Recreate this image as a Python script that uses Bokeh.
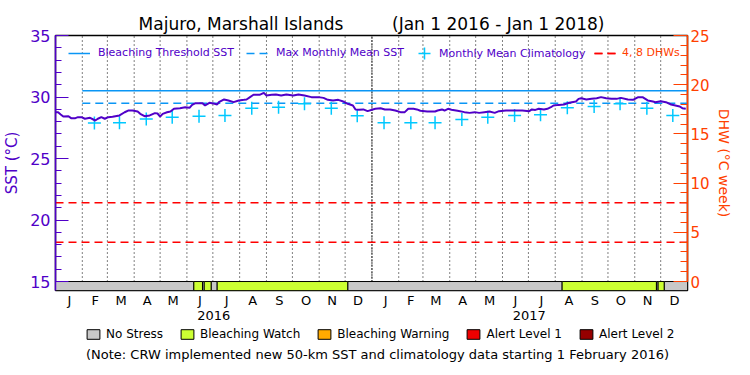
import math
import pandas as pd
from bokeh.plotting import figure
from bokeh.layouts import column
from bokeh.models import (Range1d, LinearAxis, FixedTicker, Legend, LegendItem,
                          ColumnDataSource, Label)
from bokeh.embed import file_html
from bokeh.resources import INLINE

# ---------------- data ----------------
START = pd.Timestamp("2016-01-01")
END = pd.Timestamp("2018-01-01")

# daily SST, day offsets from 1 Jan 2016
sst_day = [0, 3, 6, 9, 15, 18, 23, 26, 30, 34, 40, 46, 49, 53, 57, 61, 66, 74, 80, 84,
           89, 95, 98, 103, 109, 115, 118, 121, 124, 129, 133, 137, 144, 150, 155, 158,
           162, 170, 173, 178, 184, 187, 189, 195, 200, 206, 212, 218, 221, 225, 229,
           236, 241, 244, 250, 255, 261, 267, 275, 281, 288, 296, 304, 310, 315, 321,
           327, 332, 338, 344, 347, 351, 356, 361, 367, 370, 376, 381, 387, 393, 399,
           404, 408, 414, 418, 422, 430, 439, 442, 447, 450, 454, 458, 465, 473, 479,
           485, 490, 496, 502, 508, 513, 521, 533, 540, 548, 551, 555, 559, 565, 569,
           573, 576, 582, 588, 594, 602, 605, 608, 614, 620, 626, 631, 637, 643, 649,
           654, 662, 668, 674, 679, 685, 691, 694, 700, 706, 712, 717, 722, 725, 729]
sst_val = [28.76, 28.76, 28.58, 28.41, 28.44, 28.28, 28.28, 28.36, 28.36, 28.23, 28.31,
           28.09, 28.23, 28.36, 28.23, 28.36, 28.39, 28.50, 28.76, 28.90, 28.90, 28.82,
           28.63, 28.44, 28.50, 28.69, 28.66, 28.41, 28.63, 28.76, 28.82, 29.04, 29.09,
           29.17, 29.12, 29.36, 29.50, 29.50, 29.31, 29.53, 29.45, 29.39, 29.58, 29.80,
           29.72, 29.58, 29.72, 29.77, 29.80, 29.99, 30.18, 30.18, 30.34, 30.12, 30.18,
           30.20, 30.12, 30.20, 30.12, 30.20, 30.12, 29.99, 29.99, 29.93, 29.77, 29.72,
           29.77, 29.66, 29.45, 29.31, 28.99, 28.96, 28.99, 28.85, 28.99, 29.04, 29.09,
           28.99, 28.99, 28.90, 28.77, 28.77, 29.04, 29.04, 28.99, 28.88, 28.82, 28.82,
           28.90, 28.99, 28.90, 29.04, 28.96, 28.88, 28.77, 28.71, 28.77, 28.71, 28.77,
           28.82, 28.71, 28.85, 28.90, 28.90, 28.90, 28.85, 28.99, 28.95, 29.04, 28.99,
           29.04, 29.17, 29.31, 29.36, 29.39, 29.53, 29.63, 29.85, 29.90, 29.80, 29.85,
           29.90, 29.99, 29.90, 29.85, 29.85, 29.93, 29.80, 29.77, 29.99, 29.99, 29.72,
           29.63, 29.58, 29.66, 29.58, 29.39, 29.31, 29.23, 29.09, 29.04]

# monthly mean climatology (plotted mid-month)
clim_month = ["2016-02", "2016-03", "2016-04", "2016-05", "2016-06", "2016-07",
              "2016-08", "2016-09", "2016-10", "2016-11", "2016-12",
              "2017-01", "2017-02", "2017-03", "2017-04", "2017-05", "2017-06",
              "2017-07", "2017-08", "2017-09", "2017-10", "2017-11", "2017-12"]
clim_val = [27.88, 27.90, 28.22, 28.36, 28.44, 28.50, 29.09, 29.17, 29.45, 29.09, 28.47,
            27.90, 27.90, 27.90, 28.17, 28.36, 28.50, 28.55, 29.12, 29.23, 29.45, 29.09, 28.50]

BLEACHING_THRESHOLD = 30.5
MMM = 29.5
THRESHOLD_START = "2016-02-01"
DHW_LEVELS = [4, 8]

# bleaching alert status periods
status_start = ["2016-01-01", "2016-06-09", "2016-06-19", "2016-06-21", "2016-06-29",
                "2016-07-06", "2016-12-04", "2017-08-09", "2017-11-26", "2017-11-28",
                "2017-12-05"]
status_end = status_start[1:] + ["2018-01-01"]
status_level = [0, 1, 0, 1, 0, 1, 0, 1, 0, 1, 0]

status_names = ["No Stress", "Bleaching Watch", "Bleaching Warning", "Alert Level 1", "Alert Level 2"]
status_colors = ["#c8c8c8", "#ccff33", "#ffaa00", "#ee0000", "#960000"]

month_letters = ["J", "F", "M", "A", "M", "J", "J", "A", "S", "O", "N", "D"]
year_labels = ["2016", "2017"]
title_text = "Majuro, Marshall Islands\u00a0\u00a0\u00a0\u00a0\u00a0\u00a0\u00a0\u00a0\u00a0(Jan 1 2016 - Jan 1 2018)"
note_text = "(Note: CRW implemented new 50-km SST and climatology data starting 1 February 2016)"

# ---------------- styling ----------------
PURPLE = "#5000c8"
ORANGE = "#ff4000"
CYAN = "#00c8ff"
BLUE = "#0a96f5"
RED = "#ff0000"
FONT = "DejaVu Sans"

SST_MIN, SST_MAX = 15, 35
DHW_MAX = 25
Y_START = 14.27  # room for the status bar below 15 degC
W = 742


def days(d):
    return (pd.Timestamp(d) - START).days


ndays = (END - START).days
month_starts = pd.date_range(START, END, freq="MS")
month_off = [days(m) for m in month_starts]
month_centers = [int(round((a + b) / 2)) for a, b in zip(month_off[:-1], month_off[1:])]
year_off = [days(y) for y in pd.date_range(START, END, freq="YS")]
year_centers = [int(round((a + b) / 2)) for a, b in zip(year_off[:-1], year_off[1:])]

p = figure(width=W, height=325, output_backend="svg", toolbar_location=None,
           x_range=Range1d(0, ndays), y_range=Range1d(Y_START, SST_MAX),
           min_border_left=49, min_border_right=55, min_border_top=35, min_border_bottom=35)
p.background_fill_color = "white"
p.border_fill_color = "white"
p.outline_line_color = "black"
p.outline_line_width = 1.5
p.xgrid.visible = False
p.ygrid.visible = False

dscale = DHW_MAX / (SST_MAX - SST_MIN)
p.extra_y_ranges = {"dhw": Range1d((Y_START - SST_MIN) * dscale, DHW_MAX)}

# title
p.title.text = title_text
p.title.align = "center"
p.title.text_font = FONT
p.title.text_font_size = "17px"
p.title.text_font_style = "normal"
p.title.text_color = "black"
p.title.standoff = 4

# month dotted lines
inner = month_off[1:-1]
p.segment(x0=inner, x1=inner, y0=[SST_MIN] * len(inner), y1=[SST_MAX] * len(inner),
          line_color="black", line_dash="1 3", line_width=1)
p.segment(x0=[year_off[1]], x1=[year_off[1]], y0=[SST_MIN], y1=[SST_MAX],
          line_color="black", line_dash="1 2", line_width=1.5)

# status bar
s0 = [days(d) for d in status_start]
s1 = [days(d) for d in status_end]
for lvl, col in enumerate(status_colors):
    idx = [i for i, l in enumerate(status_level) if l == lvl]
    if idx:
        p.quad(left=[s0[i] for i in idx], right=[s1[i] for i in idx],
               top=[SST_MIN] * len(idx), bottom=[Y_START] * len(idx),
               fill_color=col, line_color="black", line_width=1)

# DHW reference lines
dhw_rs = [p.line([0, ndays], [v, v], y_range_name="dhw", line_color=RED,
                 line_dash="8 5", line_width=1.5) for v in DHW_LEVELS]

# thresholds
t0 = days(THRESHOLD_START)
thr_r = p.line([t0, ndays], [BLEACHING_THRESHOLD] * 2, line_color=BLUE, line_width=1.5)
mmm_r = p.line([t0, ndays], [MMM] * 2, line_color=BLUE, line_width=1.5, line_dash="8 5")

# climatology
clim_x = [days(m + "-15") for m in clim_month]
clim_r = p.scatter(clim_x, clim_val, marker="cross", size=13, line_color=CYAN, line_width=1.5)

# SST
p.line(sst_day, sst_val, line_color=PURPLE, line_width=2)

# left axis
ya = p.yaxis[0]
ya.ticker = FixedTicker(ticks=list(range(SST_MIN, SST_MAX + 1, 5)),
                        minor_ticks=list(range(SST_MIN, SST_MAX + 1)))
ya.axis_label = "SST (°C)"
ya.axis_line_color = PURPLE
ya.major_tick_line_color = PURPLE
ya.minor_tick_line_color = PURPLE
ya.major_label_text_color = PURPLE
ya.axis_label_text_color = PURPLE
ya.major_tick_in = 13
ya.major_tick_out = 0
ya.minor_tick_in = 6
ya.minor_tick_out = 0
ya.axis_line_width = 1.5
ya.major_label_text_font = FONT
ya.major_label_text_font_size = "16px"
ya.axis_label_text_font = FONT
ya.axis_label_text_font_size = "15px"
ya.axis_label_text_font_style = "normal"
ya.axis_label_standoff = 6
ya.major_label_standoff = 5

# right axis
ra = LinearAxis(y_range_name="dhw", axis_label="DHW (°C week)",
                ticker=FixedTicker(ticks=list(range(0, DHW_MAX + 1, 5)),
                                   minor_ticks=list(range(0, DHW_MAX + 1))),
                bounds=(0, DHW_MAX))
ra.axis_line_color = ORANGE
ra.major_tick_line_color = ORANGE
ra.minor_tick_line_color = ORANGE
ra.major_label_text_color = ORANGE
ra.axis_label_text_color = ORANGE
ra.axis_line_width = 1.5
ra.major_tick_in = 14
ra.major_tick_out = 0
ra.minor_tick_in = 7
ra.minor_tick_out = 0
ra.major_label_text_font = FONT
ra.major_label_text_font_size = "15px"
ra.axis_label_text_font = FONT
ra.axis_label_text_font_size = "14px"
ra.axis_label_text_font_style = "normal"
ra.axis_label_standoff = 3
ra.major_label_standoff = 3
p.add_layout(ra, "right")

# month axis
xa = p.xaxis[0]
xa.ticker = FixedTicker(ticks=month_centers, minor_ticks=[])
xa.major_label_overrides = {c: month_letters[i % 12] for i, c in enumerate(month_centers)}
xa.axis_line_color = None
xa.major_tick_line_color = None
xa.minor_tick_line_color = None
xa.major_tick_in = 0
xa.major_tick_out = 0
xa.major_label_text_font = FONT
xa.major_label_text_font_size = "13px"
xa.major_label_text_color = "black"
xa.major_label_standoff = 2

# year axis
xa2 = LinearAxis(ticker=FixedTicker(ticks=year_centers, minor_ticks=[]))
xa2.major_label_overrides = {c: year_labels[i] for i, c in enumerate(year_centers)}
xa2.axis_line_color = None
xa2.major_tick_line_color = None
xa2.minor_tick_line_color = None
xa2.major_tick_in = 0
xa2.major_tick_out = 0
xa2.major_label_text_font = FONT
xa2.major_label_text_font_size = "13px"
xa2.major_label_text_color = "black"
xa2.major_label_standoff = 0
p.add_layout(xa2, "below")

# top legends
leg1 = Legend(items=[LegendItem(label="Bleaching Threshold SST", renderers=[thr_r]),
                     LegendItem(label="Max Monthly Mean SST", renderers=[mmm_r])],
              location=(13, 231), orientation="horizontal")
leg1.glyph_width = 22
leg1.glyph_height = 12
leg1.label_standoff = 8
leg1.spacing = 12
leg1b = Legend(items=[LegendItem(label="Monthly Mean Climatology", renderers=[clim_r])],
               location=(354, 222), orientation="horizontal")
leg1b.glyph_width = 30
leg1b.glyph_height = 30
leg1b.label_standoff = 0
leg2 = Legend(items=[LegendItem(label="4, 8 DHWs", renderers=dhw_rs)],
              location=(539, 231), orientation="horizontal")
leg2.glyph_width = 22
leg2.glyph_height = 12
leg2.label_standoff = 6
for lg, c in [(leg1, PURPLE), (leg1b, PURPLE), (leg2, ORANGE)]:
    lg.label_text_color = c
    lg.label_text_font = FONT
    lg.label_text_font_size = "11px"
    lg.border_line_color = None
    lg.background_fill_alpha = 0
    lg.padding = 0
    lg.margin = 0
    lg.label_height = 12
    p.add_layout(lg)

# ---------------- status legend + note strip ----------------
p2 = figure(width=W, height=42, output_backend="svg", toolbar_location=None,
            x_axis_type=None, y_axis_type=None, x_range=Range1d(0, 1), y_range=Range1d(0, 1),
            min_border=0)
p2.outline_line_color = None
p2.xgrid.visible = False
p2.ygrid.visible = False
legend_renderers = []
for col in status_colors:
    src = ColumnDataSource(dict(left=[math.nan], right=[math.nan], top=[math.nan], bottom=[math.nan]))
    legend_renderers.append(p2.quad(left="left", right="right", top="top", bottom="bottom", source=src,
                                    fill_color=col, line_color="black", line_width=1))
legb = Legend(items=[LegendItem(label=n, renderers=[r]) for n, r in zip(status_names, legend_renderers)],
              orientation="horizontal", location=(30, 26))
legb.label_text_font = FONT
legb.label_text_font_size = "12px"
legb.label_text_color = "black"
legb.border_line_color = None
legb.background_fill_alpha = 0
legb.glyph_width = 16
legb.glyph_height = 12
legb.label_standoff = 5
legb.spacing = 16
legb.padding = 0
legb.margin = 0
legb.label_height = 12
p2.add_layout(legb)

note = Label(x=322, y=13, x_units="screen", y_units="screen", text=note_text,
             text_align="center", text_baseline="middle", text_font=FONT,
             text_font_size="13px", text_color="black")
p2.add_layout(note)

layout = column(p, p2, spacing=0)
open("out.html", "w").write(file_html(layout, INLINE))
